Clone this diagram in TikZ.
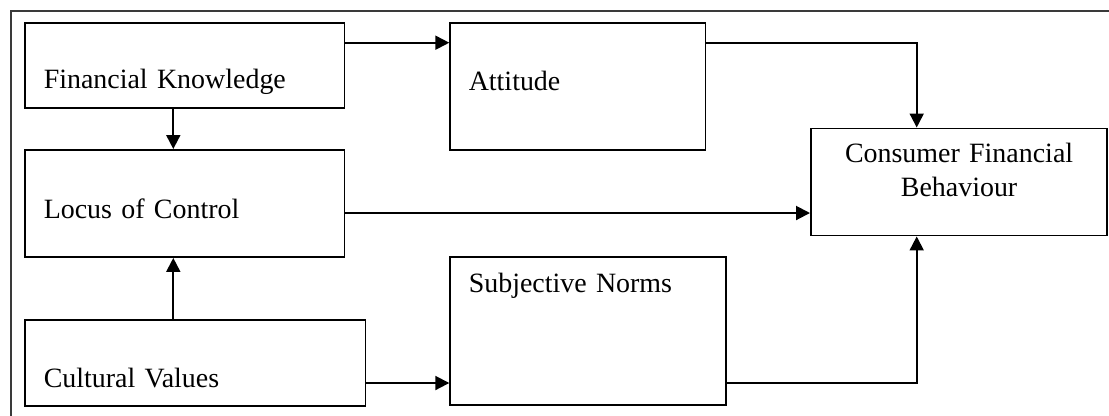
\documentclass[tikz,border=0pt]{standalone}
\usepackage{fontspec}
\setmainfont{Liberation Serif}
\usetikzlibrary{arrows.meta, positioning, calc}
\definecolor{frameGrey}{HTML}{3A3A3A}

\begin{document}
\begin{tikzpicture}[
    blk/.style={rectangle, draw=black, line width=1.1pt, anchor=north west,
                inner xsep=0.37cm, inner ysep=0pt, align=left,
                font=\fontsize{15.9}{19.5}\selectfont},
    arr/.style={-{Triangle[length=0.28cm, width=0.28cm]}, line width=1.1pt},
  ]
    \clip (0,0) rectangle (22.18,-8.3);
    \draw[frameGrey, line width=1.1pt] (0.22,-0.22) rectangle (22.6,-8.7);

    % boxes
    \node[blk, text width=5.644cm, text height=1.32cm, text depth=0.374cm]
      (fk) at (0.486,-0.44) {Financial Knowledge};
    \node[blk, text width=5.644cm, text height=1.366cm, text depth=0.774cm]
      (loc) at (0.486,-2.98) {Locus of Control};
    \node[blk, text width=6.064cm, text height=1.348cm, text depth=0.366cm]
      (cv) at (0.486,-6.386) {Cultural Values};
    \node[blk, text width=4.364cm, text height=1.366cm, text depth=1.174cm]
      (att) at (8.986,-0.434) {Attitude};
    \node[blk, text width=4.778cm, text height=0.72cm, text depth=2.252cm]
      (sn) at (8.986,-5.114) {Subjective Norms};
    \node[blk, align=center, text width=5.184cm, text height=0.684cm, text depth=1.456cm]
      (cfb) at (16.2,-2.55) {Consumer Financial\\Behaviour};

    % rails for the connectors
    \coordinate (topline) at (0,-0.854);
    \coordinate (midline) at (0,-4.26);
    \coordinate (lowline) at (0,-7.66);
    \coordinate (leftcol) at (3.466,0);
    \coordinate (rightcol) at (18.334,0);

    \draw[arr] (fk.east |- topline) -- (att.west |- topline);
    \draw[arr] (att.east |- topline) -| (rightcol |- cfb.north);
    \draw[arr] (fk.south -| leftcol) -- (loc.north -| leftcol);
    \draw[arr] (cv.north -| leftcol) -- (loc.south -| leftcol);
    \draw[arr] (loc.east |- midline) -- (cfb.west |- midline);
    \draw[arr] (cv.east |- lowline) -- (sn.west |- lowline);
    \draw[arr] (sn.east |- lowline) -| (rightcol |- cfb.south);
  \end{tikzpicture}
\end{document}
